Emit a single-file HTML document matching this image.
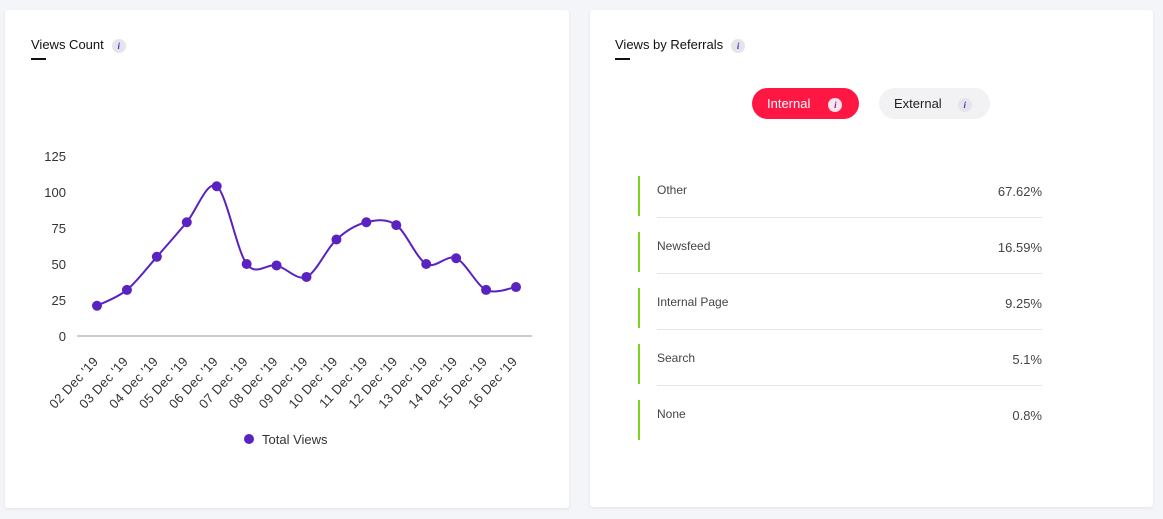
<!DOCTYPE html>
<html><head><meta charset="utf-8"><style>
body{margin:0;width:1163px;height:519px;background:#f4f5f9;font-family:"Liberation Sans",sans-serif;position:relative;overflow:hidden}
.card{position:absolute;background:#fff;border-radius:3px;box-shadow:0 1px 3px rgba(0,0,0,.08)}
.title{position:absolute;font-size:13px;color:#111}
.ul{position:absolute;width:15px;height:2px;background:#111}
.info{display:inline-block;width:14px;height:14px;border-radius:7px;background:#e4e4ea;color:#5a2dc0;font-size:9px;font-style:italic;font-weight:bold;text-align:center;line-height:14px;vertical-align:middle;margin-left:8px;font-family:"Liberation Serif",serif}
.pill{position:absolute;height:31px;border-radius:16px;font-size:13px;line-height:31px}
.row{position:absolute;left:638px;width:404px;height:40px}
.row .bar{position:absolute;left:0;top:0;width:2px;height:40px;background:#7ed321}
.row .lbl{position:absolute;left:19px;top:7px;font-size:12px;color:#444}
.row .val{position:absolute;right:0;top:8px;font-size:13px;color:#444}
.row .sep{position:absolute;left:19px;right:0;top:41px;height:1px;background:#e6e6e6}
</style></head><body>
<div class="card" style="left:5px;top:10px;width:564px;height:498px"></div>
<div class="card" style="left:590px;top:10px;width:563px;height:497px"></div>
<div class="title" style="left:31px;top:37px">Views Count<span class="info">i</span></div>
<div class="ul" style="left:31px;top:58px"></div>
<div class="title" style="left:615px;top:37px">Views by Referrals<span class="info">i</span></div>
<div class="ul" style="left:615px;top:58px"></div>
<div class="pill" style="left:752px;top:88px;width:107px;background:#ff1744;color:#fff"><span style="margin-left:15px">Internal</span><span class="info" style="margin-left:18px;background:#fde4e8">i</span></div>
<div class="pill" style="left:879px;top:88px;width:111px;background:#f2f2f4;color:#222"><span style="margin-left:15px">External</span><span class="info" style="margin-left:16px">i</span></div>
<div class="row" style="top:176px"><div class="bar"></div><div class="lbl">Other</div><div class="val">67.62%</div><div class="sep"></div></div>
<div class="row" style="top:232px"><div class="bar"></div><div class="lbl">Newsfeed</div><div class="val">16.59%</div><div class="sep"></div></div>
<div class="row" style="top:288px"><div class="bar"></div><div class="lbl">Internal Page</div><div class="val">9.25%</div><div class="sep"></div></div>
<div class="row" style="top:344px"><div class="bar"></div><div class="lbl">Search</div><div class="val">5.1%</div><div class="sep"></div></div>
<div class="row" style="top:400px"><div class="bar"></div><div class="lbl">None</div><div class="val">0.8%</div></div>
<svg id="chart" width="1163" height="519" style="position:absolute;left:0;top:0"></svg>
<script>
const categories=["02 Dec '19","03 Dec '19","04 Dec '19","05 Dec '19","06 Dec '19","07 Dec '19","08 Dec '19","09 Dec '19","10 Dec '19","11 Dec '19","12 Dec '19","13 Dec '19","14 Dec '19","15 Dec '19","16 Dec '19"];
const totalViews=[21,32,55,79,104,50,49,41,67,79,77,50,54,32,34];
const yTicks=[0,25,50,75,100,125];
const svg=document.getElementById('chart');const NS='http://www.w3.org/2000/svg';
const x0=97,x1=516,y0=336,yPer=1.44;
const X=i=>x0+i*(x1-x0)/(categories.length-1);
const Y=v=>y0-v*yPer;
function mk(t,a){const e=document.createElementNS(NS,t);for(const k in a)e.setAttribute(k,a[k]);svg.appendChild(e);return e;}
yTicks.forEach(t=>{const e=mk('text',{x:66,y:Y(t)+5,'text-anchor':'end','font-size':13,fill:'#333','font-family':'Liberation Sans'});e.textContent=t;

});
const ax=mk('line',{x1:77,x2:532,y1:y0,y2:y0,stroke:'#999','stroke-width':1});


categories.forEach((c,i)=>{const lx=X(i)+2,ly=y0+26;const e=mk('text',{x:lx,y:ly,'text-anchor':'end','font-size':13,'letter-spacing':0.3,fill:'#333','font-family':'Liberation Sans',transform:`rotate(-47 ${lx} ${ly})`});e.textContent=c;

});
const pts=totalViews.map((v,i)=>[X(i),Y(v)]);
let d=`M${pts[0][0]},${pts[0][1]}`;
for(let i=0;i<pts.length-1;i++){const p0=pts[i-1]||pts[i],p1=pts[i],p2=pts[i+1],p3=pts[i+2]||p2;const t=0.16;
d+=` C${p1[0]+(p2[0]-p0[0])*t},${p1[1]+(p2[1]-p0[1])*t} ${p2[0]-(p3[0]-p1[0])*t},${p2[1]-(p3[1]-p1[1])*t} ${p2[0]},${p2[1]}`;}
const ln=mk('path',{d:d,fill:'none',stroke:'#5a22c0','stroke-width':2});


pts.forEach(p=>{const c=mk('circle',{cx:p[0],cy:p[1],r:5,fill:'#5a22c0'});

});
const lc=mk('circle',{cx:249,cy:439,r:5,fill:'#5a22c0'});


const lt=mk('text',{x:262,y:444,'font-size':13,fill:'#333','font-family':'Liberation Sans'});lt.textContent='Total Views';


</script>
</body></html>
